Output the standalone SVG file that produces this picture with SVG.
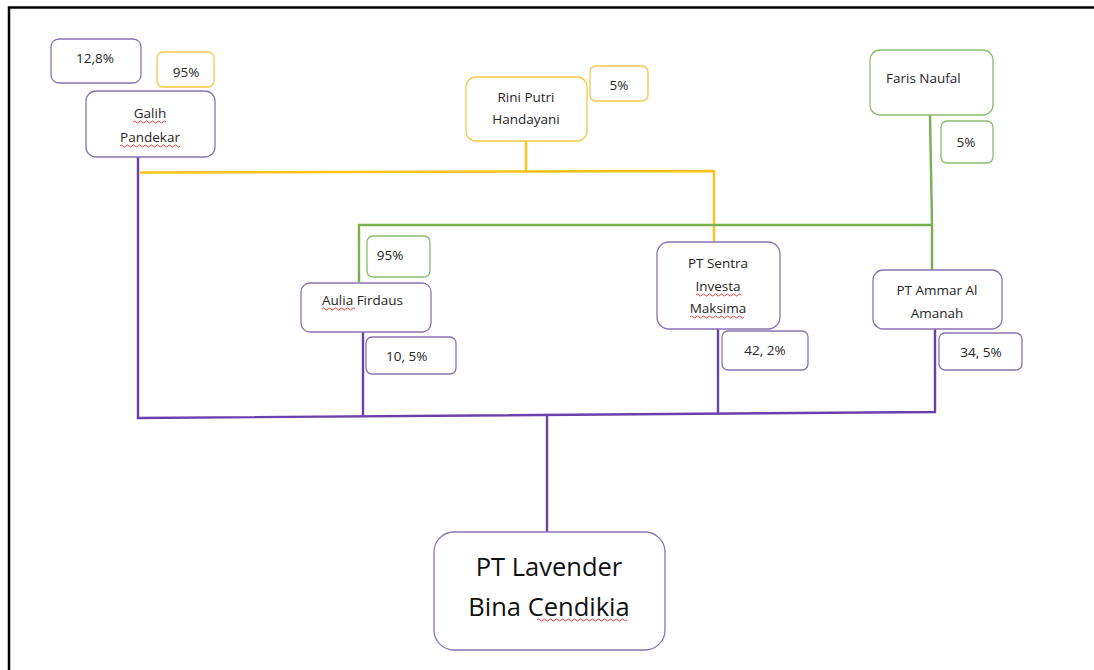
<svg xmlns="http://www.w3.org/2000/svg" width="1094" height="670" viewBox="0 0 1094 670">
<style>
.bg{fill:#ffffff}
.box{fill:#ffffff;stroke-width:1.3}
.p{stroke:#8a73b4}
.y{stroke:#f5c84a}
.g{stroke:#8cbc6c}
.t{font-family:"Open Sans","Liberation Sans",sans-serif;font-size:13.5px;fill:#262626}
.big{font-family:"Open Sans","Liberation Sans",sans-serif;font-size:25.5px;fill:#111111}
.lp{stroke:#6a40ac;stroke-width:2.4;fill:none}
.ly{stroke:#ffc21a;stroke-width:2.4;fill:none}
.lg{stroke:#78b050;stroke-width:2.4;fill:none}
.sq{stroke:#e03030;stroke-width:0.9;fill:none}
</style>
<rect class="bg" x="0" y="0" width="1094" height="670"/>
<path d="M9 670 V7.5 H1094" stroke="#000" stroke-width="2.5" fill="none"/>

<g id="connectors">
<path class="ly" d="M140 172.5 L714 171 V241"/>
<path class="ly" d="M526 141 V171" stroke-width="1.5"/>
<path class="lg" d="M930 115 L932 225 V270"/>
<path class="lg" d="M932 225 H359 V282"/>
<path class="lp" d="M138 157 V418 L935 412 V329"/>
<path class="lp" d="M363 332 V416"/>
<path class="lp" d="M718 329 V414"/>
<path class="lp" d="M547 415 V533"/>
</g>

<g id="n-galih-share"><rect class="box p" x="51" y="39" width="90" height="44" rx="8"/><text class="t" x="95" y="63" text-anchor="middle">12,8%</text></g>
<g id="n-galih-rini-share"><rect class="box y" x="157" y="52" width="57" height="35" rx="6"/><text class="t" x="186" y="77" text-anchor="middle">95%</text></g>
<g id="n-galih"><rect class="box p" x="86" y="91" width="129" height="66" rx="10"/><text class="t" x="150" y="118" text-anchor="middle">Galih</text><text class="t" x="150" y="142" text-anchor="middle">Pandekar</text>
<path class="sq" d="M133 122 q1.5 -2 3 0 t3 0 t3 0 t3 0 t3 0 t3 0 t3 0 t3 0 t3 0 t3 0 t3 0"/>
<path class="sq" d="M120 146 q1.5 -2 3 0 t3 0 t3 0 t3 0 t3 0 t3 0 t3 0 t3 0 t3 0 t3 0 t3 0 t3 0 t3 0 t3 0 t3 0 t3 0 t3 0 t3 0 t3 0 t3 0"/></g>

<g id="n-rini"><rect class="box y" x="466" y="77" width="121" height="64" rx="10"/><text class="t" x="526" y="102" text-anchor="middle">Rini Putri</text><text class="t" x="526" y="124" text-anchor="middle">Handayani</text></g>
<g id="n-rini-share"><rect class="box y" x="590" y="66" width="58" height="35" rx="6"/><text class="t" x="619" y="90" text-anchor="middle">5%</text></g>

<g id="n-faris"><rect class="box g" x="870" y="50" width="123" height="65" rx="10"/><text class="t" x="886" y="83">Faris Naufal</text></g>
<g id="n-faris-share"><rect class="box g" x="941" y="121" width="52" height="42" rx="6"/><text class="t" x="966" y="147" text-anchor="middle">5%</text></g>

<g id="n-aulia-share"><rect class="box g" x="367" y="236" width="63" height="41" rx="6"/><text class="t" x="390" y="260" text-anchor="middle">95%</text></g>
<g id="n-aulia"><rect class="box p" x="301" y="283" width="130" height="49" rx="9"/><text class="t" x="322" y="305">Aulia Firdaus</text>
<path class="sq" d="M322 309 q1.5 -2 3 0 t3 0 t3 0 t3 0 t3 0 t3 0 t3 0 t3 0 t3 0 t3 0 t3 0"/></g>
<g id="n-aulia-pct"><rect class="box p" x="366" y="337" width="90" height="37" rx="6"/><text class="t" x="386" y="361">10, 5%</text></g>

<g id="n-sentra"><rect class="box p" x="657" y="242" width="123" height="87" rx="12"/><text class="t" x="718" y="268" text-anchor="middle">PT Sentra</text><text class="t" x="718" y="291" text-anchor="middle">Investa</text><text class="t" x="718" y="313" text-anchor="middle">Maksima</text>
<path class="sq" d="M696 295 q1.5 -2 3 0 t3 0 t3 0 t3 0 t3 0 t3 0 t3 0 t3 0 t3 0 t3 0 t3 0 t3 0 t3 0 t3 0 t3 0"/>
<path class="sq" d="M690 317 q1.5 -2 3 0 t3 0 t3 0 t3 0 t3 0 t3 0 t3 0 t3 0 t3 0 t3 0 t3 0 t3 0 t3 0 t3 0 t3 0 t3 0 t3 0 t3 0"/></g>
<g id="n-sentra-pct"><rect class="box p" x="722" y="331" width="86" height="39" rx="6"/><text class="t" x="765" y="355" text-anchor="middle">42, 2%</text></g>

<g id="n-ammar"><rect class="box p" x="873" y="270" width="129" height="59" rx="10"/><text class="t" x="937" y="295" text-anchor="middle">PT Ammar Al</text><text class="t" x="937" y="318" text-anchor="middle">Amanah</text></g>
<g id="n-ammar-pct"><rect class="box p" x="939" y="333" width="83" height="37" rx="6"/><text class="t" x="981" y="357" text-anchor="middle">34, 5%</text></g>

<g id="n-lavender"><rect class="box p" x="434" y="532" width="231" height="118" rx="20"/><text class="big" x="549" y="576" text-anchor="middle">PT Lavender</text><text class="big" x="549" y="616" text-anchor="middle">Bina Cendikia</text>
<path class="sq" d="M537 620 q1.5 -2 3 0 t3 0 t3 0 t3 0 t3 0 t3 0 t3 0 t3 0 t3 0 t3 0 t3 0 t3 0 t3 0 t3 0 t3 0 t3 0 t3 0 t3 0 t3 0 t3 0 t3 0 t3 0 t3 0 t3 0 t3 0 t3 0 t3 0 t3 0 t3 0 t3 0"/></g>
</svg>
